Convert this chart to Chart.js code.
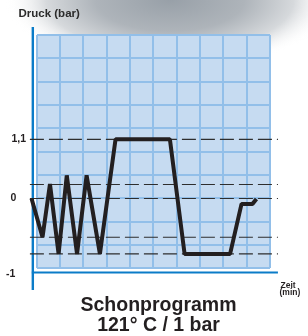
<!DOCTYPE html>
<html>
<head>
<meta charset="utf-8">
<script src="https://cdn.jsdelivr.net/npm/chart.js@4.4.1/dist/chart.umd.min.js"></script>
<style>
  html, body { margin: 0; padding: 0; background: #ffffff; }
  #wrap { position: relative; width: 308px; height: 336px; }
  canvas { display: block; }
</style>
</head>
<body>
<div id="wrap"><canvas id="c" width="308" height="336"></canvas></div>
<script>
// ---------------- data ----------------
const timeX    = [-0.22, 0.25, 0.57, 0.94, 1.29, 1.73, 2.14, 2.71, 3.38, 5.71, 6.34, 8.29, 8.78, 9.25, 9.42];
const pressure = [0, -0.72, 0.27, -1.03, 0.43, -1.03, 0.43, -1.03, 1.1, 1.1, -1.03, -1.03, -0.1, -0.1, -0.01];
const refLevels = [1.1, 0.26, 0, -0.72, -1.03];
const refSpan = [-0.29, 10.34];
const yTickLabels = ['1,1', '0', '-1'];
const yTickValues = [1.1, 0, -1.4];
const yAxisTitle = 'Druck (bar)';
const xAxisTitle = ['Zeit', '(min)'];
const chartTitle = ['Schonprogramm', '121° C / 1 bar'];

// ---------------- style ----------------
const FONT = '"Liberation Sans", Arial, Helvetica, sans-serif';
const gridBg = '#c6dbf1';
const gridLine = '#92bfe9';
const axisBlue = '#0b7cc8';
const ink = '#231f20';
const labelLeftX = [11.5, 10.5, 6];

const bgPlugin = {
  id: 'bg',
  beforeDraw(chart) {
    const ctx = chart.ctx;
    const a = chart.chartArea;
    ctx.save();
    // grey sheen at top
    ctx.translate(170, 0);
    ctx.scale(1, 0.42);
    const g = ctx.createRadialGradient(0, 0, 0, 0, 0, 165);
    g.addColorStop(0, '#98a0a8');
    g.addColorStop(0.45, '#aeb4ba');
    g.addColorStop(0.75, '#d6d9dc');
    g.addColorStop(1, 'rgba(255,255,255,0)');
    ctx.fillStyle = g;
    ctx.fillRect(-200, -20, 400, 300);
    ctx.restore();
    ctx.save();
    ctx.fillStyle = gridBg;
    ctx.fillRect(a.left, a.top, a.right - a.left, a.bottom - a.top);
    ctx.restore();
  },
  beforeDatasetsDraw(chart) {
    const ctx = chart.ctx;
    const xs = chart.scales.x, ys = chart.scales.y;
    ctx.save();
    ctx.strokeStyle = axisBlue;
    ctx.lineWidth = 2.4;
    const ax = xs.getPixelForValue(-0.165);
    ctx.beginPath();
    ctx.moveTo(ax, 27);
    ctx.lineTo(ax, 290);
    ctx.stroke();
    ctx.lineWidth = 2;
    const ay = ys.getPixelForValue(-1.375);
    ctx.beginPath();
    ctx.moveTo(ax - 1, ay);
    ctx.lineTo(xs.getPixelForValue(10.34), ay);
    ctx.stroke();
    ctx.restore();
  },
  afterDraw(chart) {
    const ctx = chart.ctx;
    const ys = chart.scales.y;
    ctx.save();
    ctx.fillStyle = ink;
    ctx.textBaseline = 'middle';
    ctx.textAlign = 'left';
    ctx.font = 'bold 10.5px ' + FONT;
    yTickLabels.forEach((t, i) => {
      ctx.fillText(t, labelLeftX[i], ys.getPixelForValue(yTickValues[i]));
    });
    ctx.fillStyle = '#2b2b2b';
    ctx.font = 'bold 11.5px ' + FONT;
    ctx.fillText(yAxisTitle, 18.5, 13.5);
    ctx.fillStyle = ink;
    ctx.font = 'bold 8.5px ' + FONT;
    ctx.fillText(xAxisTitle[0], 280.5, 285.5);
    ctx.fillText(xAxisTitle[1], 279.5, 292.5);
    ctx.textAlign = 'center';
    ctx.textBaseline = 'alphabetic';
    ctx.font = 'bold 19.5px ' + FONT;
    ctx.fillText(chartTitle[0], 158.5, 310.7);
    ctx.fillText(chartTitle[1], 158.5, 330.7);
    ctx.restore();
  }
};

const refDatasets = refLevels.map(v => ({
  data: refSpan.map(x => ({ x: x, y: v })),
  yAxisID: 'y',
  borderColor: '#2e2e2e',
  borderWidth: 1.2,
  borderDash: [14, 5],
  pointRadius: 0,
  clip: false,
  order: 2
}));

new Chart(document.getElementById('c'), {
  type: 'line',
  data: {
    datasets: [
      {
        data: timeX.map((x, i) => ({ x: x, y: pressure[i] })),
        yAxisID: 'y',
        borderColor: ink,
        borderWidth: 4,
        borderJoinStyle: 'bevel',
        borderCapStyle: 'butt',
        pointRadius: 0,
        tension: 0,
        clip: false,
        order: 1
      },
      ...refDatasets
    ]
  },
  options: {
    responsive: false,
    animation: false,
    devicePixelRatio: 1,
    layout: { padding: { left: 36.67, right: 38, top: 35, bottom: 67.67 } },
    plugins: { legend: { display: false }, tooltip: { enabled: false }, title: { display: false } },
    scales: {
      x: {
        type: 'linear', min: 0, max: 10,
        ticks: { display: false, stepSize: 1 },
        grid: { color: gridLine, lineWidth: 2, drawTicks: false },
        border: { display: false }
      },
      y: {
        type: 'linear', display: false, min: -1.298, max: 3.039
      },
      yg: {
        type: 'linear', position: 'left', min: 0, max: 10,
        ticks: { display: false, stepSize: 1 },
        grid: { color: gridLine, lineWidth: 2, drawTicks: false },
        border: { display: false }
      }
    }
  },
  plugins: [bgPlugin]
});
</script>
</body>
</html>
